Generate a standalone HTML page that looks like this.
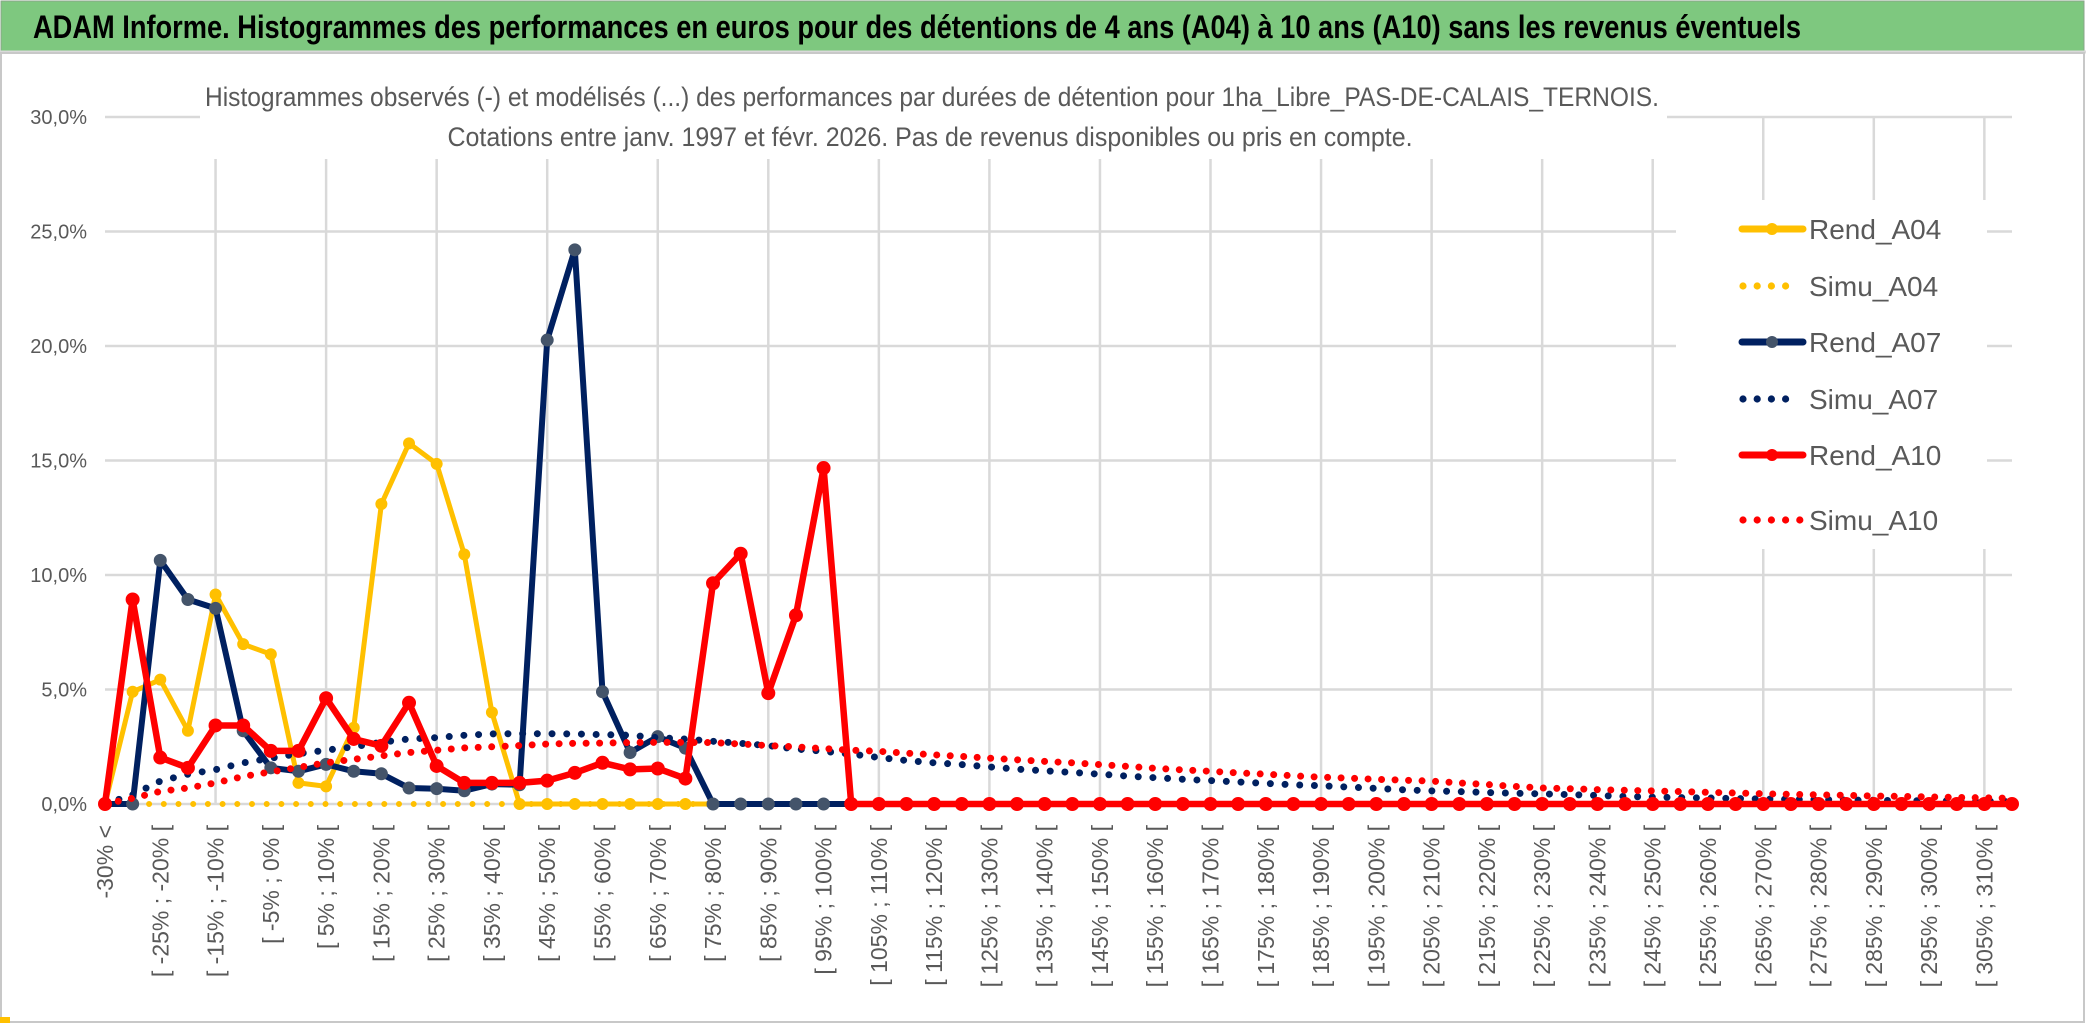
<!DOCTYPE html>
<html><head><meta charset="utf-8">
<style>
html,body{margin:0;padding:0;background:#fff;}
svg{display:block;}
.narrow{font-family:"Liberation Sans Narrow","Liberation Sans",sans-serif;}
.reg{font-family:"Liberation Sans",sans-serif;}
</style></head>
<body>
<svg id="chart" width="2086" height="1031" viewBox="0 0 2086 1031" xmlns="http://www.w3.org/2000/svg">
  <rect x="0" y="0" width="2086" height="1031" fill="#ffffff"/>
  <rect x="1" y="1" width="2083" height="50" fill="#7ec87f" stroke="#8aa58a" stroke-width="1"/>
  <text x="33" y="38" class="narrow" font-weight="bold" font-size="32" fill="#000" textLength="1768" lengthAdjust="spacingAndGlyphs">ADAM Informe. Histogrammes des performances en euros pour des détentions de 4 ans (A04) à 10 ans (A10) sans les revenus éventuels</text>
  <line x1="0" y1="52" x2="2086" y2="52" stroke="#d9d9d9" stroke-width="3"/>
  <rect x="1" y="53" width="2083" height="969" fill="none" stroke="#c8c8c8" stroke-width="2"/>
  <rect x="0" y="1017" width="10" height="6" fill="#ffc000"/>
  <g id="grid"></g>
  <g id="yaxis"></g>
  <g id="xaxis"></g>
  <g id="series"></g>
  <rect x="200" y="60" width="1467" height="99" fill="#fff"/>
  <text x="932" y="106" text-anchor="middle" class="narrow" font-size="27" fill="#595959" textLength="1454" lengthAdjust="spacingAndGlyphs">Histogrammes observés (-) et modélisés (...) des performances par durées de détention pour 1ha_Libre_PAS-DE-CALAIS_TERNOIS.</text>
  <text x="930" y="146" text-anchor="middle" class="narrow" font-size="27" fill="#595959" textLength="965" lengthAdjust="spacingAndGlyphs">Cotations entre janv. 1997 et févr. 2026. Pas de revenus disponibles ou pris en compte.</text>
  <g id="legend"></g>
</svg>
<script>
const categories = [];
categories.push("-30% <");
for (let i = 1; i < 70; i++) { const a = -30 + 5 * (i - 1); categories.push("[ " + a + "% ; " + (a + 5) + "% ["); }
const yTicks = [0, 5, 10, 15, 20, 25, 30];
const yTickLabels = ["0,0%", "5,0%", "10,0%", "15,0%", "20,0%", "25,0%", "30,0%"];
const rendA04 = [0,4.9,5.43,3.2,9.15,6.98,6.54,0.92,0.77,3.33,
 13.1,15.75,14.85,10.9,4.0,0,0,0,0,0,
 0,0,0,0,0,0,0,0,0,0, 0,0,0,0,0,0,0,0,0,0,
 0,0,0,0,0,0,0,0,0,0, 0,0,0,0,0,0,0,0,0,0, 0,0,0,0,0,0,0,0,0,0];
const simuA04 = [0,0,0,0,0,0,0,0,0,0, 0,0,0,0,0,0,0,0,0,0, 0,0,0,0,0,0,0,0,0,0,
 0,0,0,0,0,0,0,0,0,0, 0,0,0,0,0,0,0,0,0,0, 0,0,0,0,0,0,0,0,0,0, 0,0,0,0,0,0,0,0,0,0];
const rendA07 = [0,0,10.64,8.93,8.54,3.2,1.58,1.43,1.73,1.43,
 1.32,0.7,0.67,0.58,0.87,0.84,20.26,24.2,4.9,2.25,
 2.94,2.44,0,0,0,0,0,0,0,0, 0,0,0,0,0,0,0,0,0,0,
 0,0,0,0,0,0,0,0,0,0, 0,0,0,0,0,0,0,0,0,0, 0,0,0,0,0,0,0,0,0,0];
const simuA07 = [0,0.4,1.0,1.3,1.5,1.8,2.0,2.2,2.35,2.5,
 2.7,2.84,2.9,3.0,3.06,3.07,3.07,3.06,3.03,3.0,
 2.9,2.84,2.74,2.65,2.55,2.4,2.3,2.18,2.03,1.9,
 1.8,1.72,1.62,1.52,1.45,1.38,1.3,1.22,1.15,1.08,
 1.02,0.96,0.9,0.84,0.8,0.74,0.68,0.62,0.57,0.54,
 0.5,0.47,0.44,0.41,0.37,0.33,0.3,0.28,0.26,0.24,
 0.22,0.2,0.19,0.17,0.16,0.15,0.14,0.13,0.12,0.11];
const rendA10 = [0,8.93,2.03,1.58,3.43,3.43,2.32,2.32,4.62,2.84,
 2.54,4.42,1.66,0.92,0.92,0.92,1.02,1.36,1.8,1.51,
 1.55,1.11,9.64,10.93,4.84,8.24,14.67,0,0,0,
 0,0,0,0,0,0,0,0,0,0, 0,0,0,0,0,0,0,0,0,0,
 0,0,0,0,0,0,0,0,0,0, 0,0,0,0,0,0,0,0,0,0];
const simuA10 = [0,0.25,0.55,0.7,0.92,1.2,1.4,1.6,1.8,1.95,
 2.1,2.25,2.35,2.45,2.5,2.55,2.62,2.65,2.66,2.68,
 2.69,2.69,2.68,2.62,2.55,2.5,2.42,2.35,2.3,2.22,
 2.15,2.08,2.0,1.93,1.86,1.8,1.72,1.64,1.56,1.49,
 1.43,1.36,1.3,1.23,1.17,1.13,1.08,1.04,1.0,0.92,
 0.85,0.77,0.7,0.67,0.63,0.6,0.57,0.54,0.51,0.48,
 0.45,0.42,0.4,0.38,0.35,0.33,0.31,0.29,0.27,0.25];
const seriesNames = ["Rend_A04","Simu_A04","Rend_A07","Simu_A07","Rend_A10","Simu_A10"];

const NS = "http://www.w3.org/2000/svg";
const X0 = 105, X1 = 2012, Y0 = 804, Y30 = 117;
function xPos(i){ return X0 + (X1 - X0) * i / (categories.length - 1); }
function yPos(v){ return Y0 - (Y0 - Y30) * v / 30; }
function mk(tag, attrs, parent){ const e = document.createElementNS(NS, tag); for (const k in attrs) e.setAttribute(k, attrs[k]); parent.appendChild(e); return e; }

const grid = document.getElementById('grid');
yTicks.forEach(function(t){
  const l = mk('line', {x1: X0, x2: X1, y1: yPos(t), y2: yPos(t), stroke: '#d9d9d9', 'stroke-width': 2.5}, grid);
  
  
});
for (let i = 4; i < categories.length; i += 4) {
  const l = mk('line', {x1: xPos(i), x2: xPos(i), y1: Y30, y2: Y0, stroke: '#d9d9d9', 'stroke-width': 2.5}, grid);
  
  
}
const ya = document.getElementById('yaxis');
yTicks.forEach(function(t, k){
  const tx = mk('text', {x: 87, y: yPos(t) + 7, 'text-anchor': 'end', 'font-size': 20, fill: '#595959', 'class': 'narrow'}, ya);
  tx.textContent = yTickLabels[k];
  
  
});
const xa = document.getElementById('xaxis');
categories.forEach(function(c, i){
  if (i % 2 !== 0) return;
  const x = xPos(i) + 8, y = 825;
  const tx = mk('text', {x: 0, y: 0, transform: 'translate(' + x + ',' + y + ') rotate(-90)', 'text-anchor': 'end', 'font-size': 23, fill: '#595959', 'class': 'reg'}, xa);
  tx.textContent = c;
  
  
});

const sg = document.getElementById('series');
function pts(arr){ return arr.map(function(v, i){ return xPos(i).toFixed(1) + ',' + yPos(v).toFixed(1); }).join(' '); }
function solid(arr, color, w, mcolor, r, name){
  const g = mk('g', {}, sg);
  
  
  mk('polyline', {points: pts(arr), fill: 'none', stroke: color, 'stroke-width': w, 'stroke-linejoin': 'round'}, g);
  arr.forEach(function(v, i){
    const c = mk('circle', {cx: xPos(i), cy: yPos(v), r: r, fill: mcolor, stroke: mcolor}, g);
    
    
  });
}
function dotted(arr, color, w, gap, name){
  const p = mk('polyline', {points: pts(arr), fill: 'none', stroke: color, 'stroke-width': w, 'stroke-linecap': 'round', 'stroke-dasharray': '0 ' + gap}, sg);
  
  
}
solid(rendA04, '#ffc000', 5, '#ffc000', 5.5, 'series-rend-a04');
dotted(simuA04, '#ffc000', 6, 14.7, 'series-simu-a04');
solid(rendA07, '#002060', 6, '#44546a', 6, 'series-rend-a07');
dotted(simuA07, '#002060', 7, 14.7, 'series-simu-a07');
solid(rendA10, '#ff0000', 6.5, '#ff0000', 6.5, 'series-rend-a10');
dotted(simuA10, '#ff0000', 7, 13.5, 'series-simu-a10');

const lg = document.getElementById('legend');
const bg = mk('rect', {x: 1676, y: 200, width: 311, height: 349, fill: '#fff'}, lg);


const legY = [229, 286, 342, 399, 455, 520];
const legStyle = [
  {c:'#ffc000', solid:true, m:'#ffc000'}, {c:'#ffc000', solid:false},
  {c:'#002060', solid:true, m:'#44546a'}, {c:'#002060', solid:false},
  {c:'#ff0000', solid:true, m:'#ff0000'}, {c:'#ff0000', solid:false}];
seriesNames.forEach(function(n, k){
  const g = mk('g', {}, lg);
  
  
  const s = legStyle[k], y = legY[k];
  if (s.solid) {
    mk('line', {x1: 1742, x2: 1803, y1: y, y2: y, stroke: s.c, 'stroke-width': 7, 'stroke-linecap': 'round'}, g);
    mk('circle', {cx: 1772, cy: y, r: 6, fill: s.m}, g);
  } else {
    const nd = k === 5 ? 5 : 4;
    for (let d = 0; d < nd; d++) mk('circle', {cx: 1743 + d * 14.2, cy: y, r: 3.6, fill: s.c}, g);
  }
  const t = mk('text', {x: 1809, y: y + 10, 'font-size': 28, fill: '#595959', 'class': 'narrow'}, g);
  t.textContent = n;
  
  
});
</script>
</body></html>
